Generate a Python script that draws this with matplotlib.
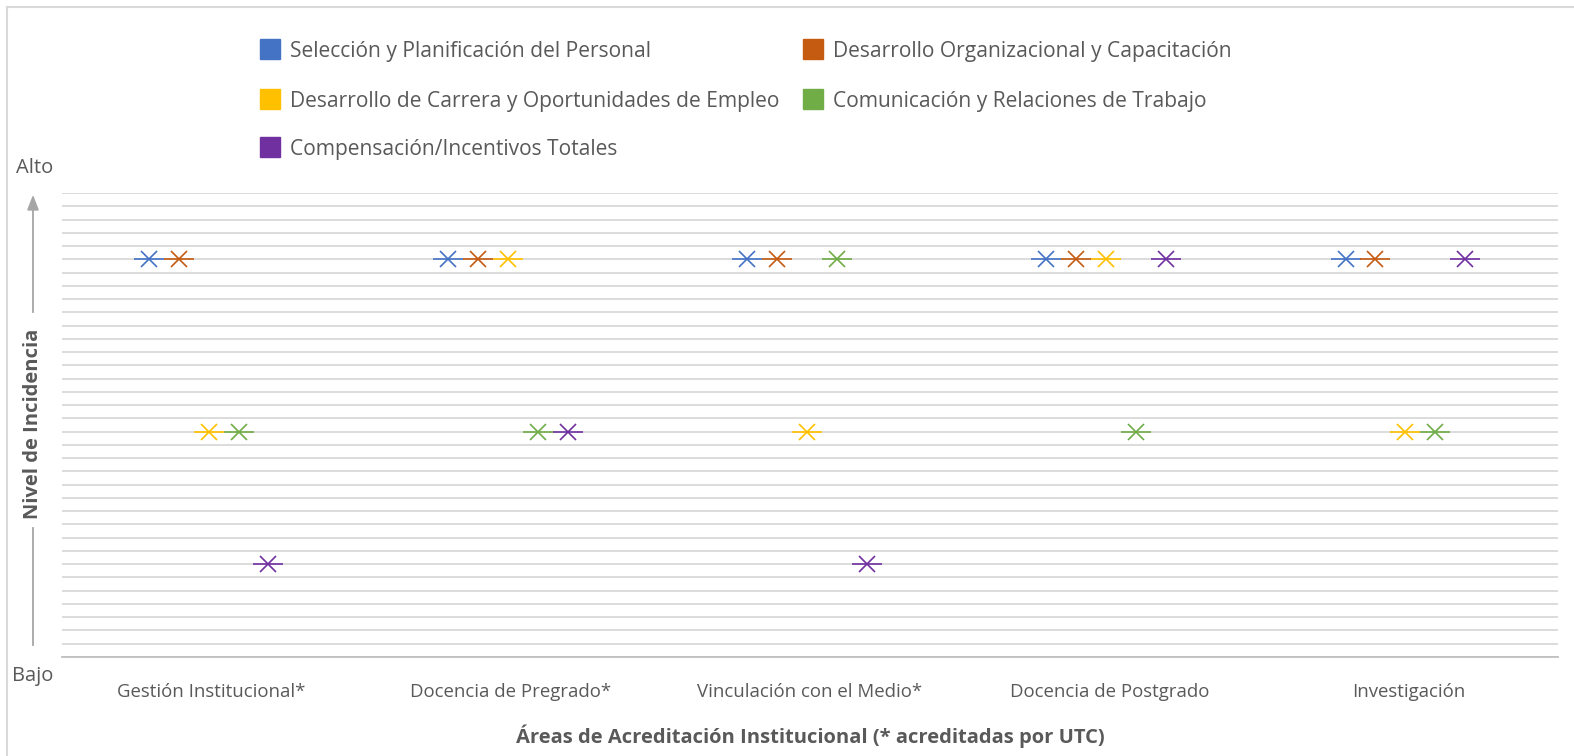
import numpy as np
import matplotlib
matplotlib.use("Agg")
import matplotlib.pyplot as plt
from matplotlib.patches import Rectangle
from matplotlib.lines import Line2D

plt.rcParams['font.family'] = ['Open Sans', 'DejaVu Sans']

# --- data ---
categories = ["Gestión Institucional*", "Docencia de Pregrado*",
              "Vinculación con el Medio*", "Docencia de Postgrado", "Investigación"]
series_names = ["Selección y Planificación del Personal",
                "Desarrollo Organizacional y Capacitación",
                "Desarrollo de Carrera y Oportunidades de Empleo",
                "Comunicación y Relaciones de Trabajo",
                "Compensación/Incentivos Totales"]
seleccion = [3.0, 3.0, 3.0, 3.0, 3.0]
desarrollo_org = [3.0, 3.0, 3.0, 3.0, 3.0]
carrera = [1.7, 3.0, 1.7, 3.0, 1.7]
comunicacion = [1.7, 1.7, 3.0, 1.7, 1.7]
compensacion = [0.7, 1.7, 0.7, 3.0, 3.0]
series_values = [seleccion, desarrollo_org, carrera, comunicacion, compensacion]
colors = ["#4472C4", "#C55A11", "#FFC000", "#70AD47", "#7030A0"]

txt = "#595959"

fig = plt.figure(figsize=(15.74, 7.56), dpi=100)
W, H = 1574, 756
ax = fig.add_axes([62 / W, 99 / H, 1496 / W, 464 / H])
ax.set_xlim(-0.5, 4.5)
ax.set_ylim(0, 3.5)
ax.set_yticks(np.linspace(0, 3.5, 36))
ax.yaxis.grid(True, color="#D9D9D9", lw=1.3)
ax.set_axisbelow(True)
for s in ["top", "right", "left"]:
    ax.spines[s].set_visible(False)
ax.spines["bottom"].set_color("#BFBFBF")
ax.spines["bottom"].set_linewidth(1.3)
ax.tick_params(left=False, labelleft=False, bottom=False)
ax.set_xticks(range(len(categories)))
ax.set_xticklabels(categories, fontsize=13.4, color=txt)
ax.tick_params(axis="x", pad=15)

x = np.arange(len(categories))
for j, vals in enumerate(series_values):
    xs = x + 0.1 * (j - 2) - 0.01
    ax.plot(xs, vals, ls="none", marker="_", ms=22, mew=1.2, color=colors[j], zorder=3)
    ax.plot(xs, vals, ls="none", marker="x", ms=11, mew=1.2, color=colors[j], zorder=3)

ax.set_xlabel("Áreas de Acreditación Institucional (* acreditadas por UTC)",
              fontsize=14.5, fontweight="bold", color=txt, labelpad=17)

# y-axis annotations
fig.text(35 / W, 1 - 168 / H, "Alto", fontsize=14.5, color=txt, ha="center", va="center")
fig.text(33 / W, 1 - 676 / H, "Bajo", fontsize=14.5, color=txt, ha="center", va="center")
fig.text(33 / W, 1 - 424 / H, "Nivel de Incidencia", fontsize=14.5, fontweight="bold",
         color=txt, rotation=90, ha="center", va="center")
fig.add_artist(Line2D([33 / W, 33 / W], [1 - 645 / H, 1 - 528 / H], color="#A6A6A6", lw=1.3))
fig.add_artist(Line2D([33 / W, 33 / W], [1 - 312 / H, 1 - 205 / H], color="#A6A6A6", lw=1.3))
ax.annotate("", xy=(33 / W, 1 - 192 / H), xytext=(33 / W, 1 - 212 / H),
            xycoords="figure fraction",
            arrowprops=dict(arrowstyle="-|>,head_width=0.35,head_length=0.9",
                            color="#A6A6A6", lw=1.3))

# legend (manual layout)
leg_pos = [(260, 50), (803, 50), (260, 100), (803, 100), (260, 148)]
for j, (lx, ly) in enumerate(leg_pos):
    fig.add_artist(Rectangle((lx / W, 1 - (ly + 9) / H), 20 / W, 20 / H,
                             transform=fig.transFigure, color=colors[j]))
    fig.text((lx + 30) / W, 1 - (ly + 1) / H, series_names[j], fontsize=15.1, color=txt,
             ha="left", va="center")

# border
fig.add_artist(Line2D([7 / W, 1], [1 - 7 / H, 1 - 7 / H], color="#D9D9D9", lw=1.5))
fig.add_artist(Line2D([7 / W, 7 / W], [0, 1 - 7 / H], color="#D9D9D9", lw=1.5))

fig.savefig("out.png", dpi=100)
